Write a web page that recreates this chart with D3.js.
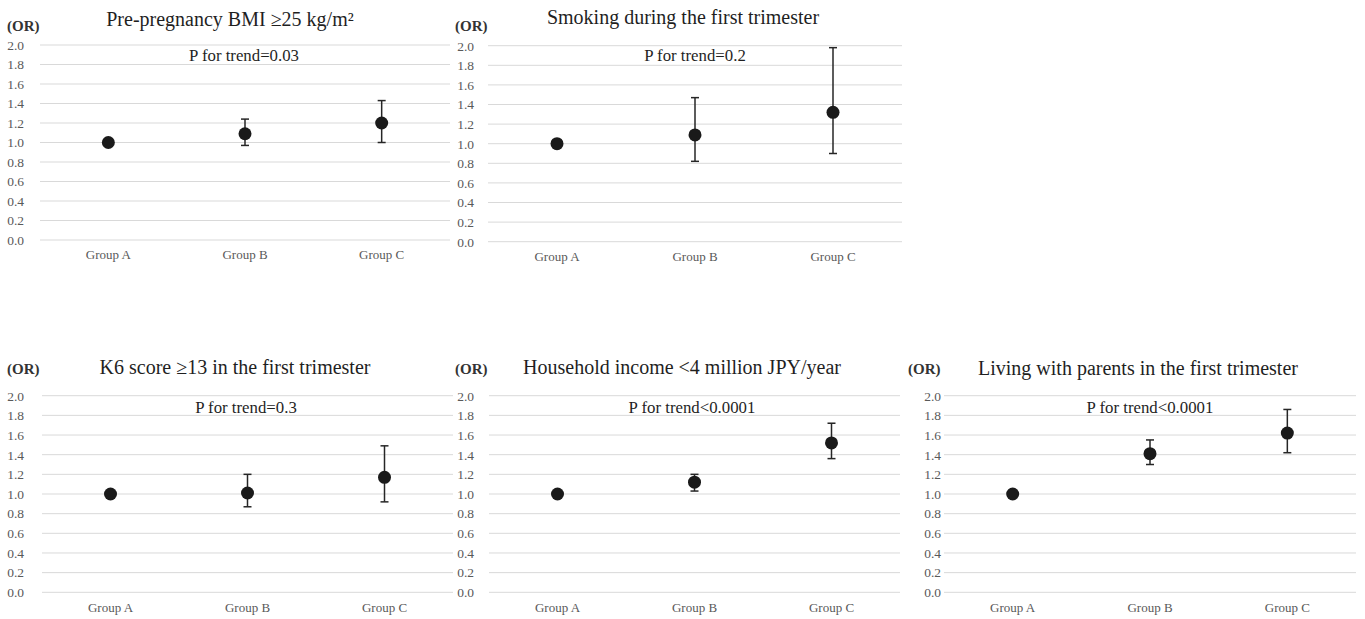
<!DOCTYPE html>
<html>
<head>
<meta charset="utf-8">
<script src="https://cdn.jsdelivr.net/npm/d3@7/dist/d3.min.js"></script>
<style>
  html, body { margin: 0; padding: 0; background: #fff; }
  svg { display: block; }
</style>
</head>
<body>
<svg id="chart" width="1365" height="619" font-family="'Liberation Serif', 'Times New Roman', serif"></svg>
<script>
// ---- data ----
const categories = ["Group A", "Group B", "Group C"];
const yTicks = [0, 0.2, 0.4, 0.6, 0.8, 1.0, 1.2, 1.4, 1.6, 1.8, 2.0];
const titles = [
  "Pre-pregnancy BMI \u226525 kg/m\u00B2",
  "Smoking during the first trimester",
  "K6 score \u226513 in the first trimester",
  "Household income <4 million JPY/year",
  "Living with parents in the first trimester"
];
const pTrend = [
  "P for trend=0.03",
  "P for trend=0.2",
  "P for trend=0.3",
  "P for trend<0.0001",
  "P for trend<0.0001"
];
const orBMI = [1.0, 1.09, 1.20];
const loBMI = [1.0, 0.97, 1.00];
const hiBMI = [1.0, 1.24, 1.43];
const orSmoke = [1.0, 1.09, 1.32];
const loSmoke = [1.0, 0.82, 0.90];
const hiSmoke = [1.0, 1.47, 1.98];
const orK6 = [1.0, 1.01, 1.17];
const loK6 = [1.0, 0.87, 0.92];
const hiK6 = [1.0, 1.20, 1.49];
const orIncome = [1.0, 1.12, 1.52];
const loIncome = [1.0, 1.03, 1.36];
const hiIncome = [1.0, 1.20, 1.72];
const orParents = [1.0, 1.41, 1.62];
const loParents = [1.0, 1.30, 1.42];
const hiParents = [1.0, 1.55, 1.86];

const series = [
  [orBMI, loBMI, hiBMI],
  [orSmoke, loSmoke, hiSmoke],
  [orK6, loK6, hiK6],
  [orIncome, loIncome, hiIncome],
  [orParents, loParents, hiParents]
];

// ---- layout (pixel geometry of each panel) ----
const layout = [
  { x0: 40,  x1: 450,  yT: 45,    yB: 240,   tx: 230,  ty: 26,  px: 244,  py: 61,  orX: 7,   orY: 31,  tickX: 24 },
  { x0: 488, x1: 902,  yT: 45.7,  yB: 241.7, tx: 683,  ty: 24,  px: 695,  py: 61,  orX: 455, orY: 31,  tickX: 474 },
  { x0: 42,  x1: 453,  yT: 395.7, yB: 592.3, tx: 235,  ty: 374, px: 246,  py: 413, orX: 7,   orY: 374, tickX: 24 },
  { x0: 489, x1: 900,  yT: 395.7, yB: 592.3, tx: 682,  ty: 374, px: 692,  py: 413, orX: 455, orY: 374, tickX: 474 },
  { x0: 944, x1: 1356, yT: 395.7, yB: 592.3, tx: 1138, ty: 375, px: 1150, py: 413, orX: 908, orY: 374, tickX: 941 }
];

const FONT = "'Liberation Serif', 'Times New Roman', serif";
const svg = d3.select("#chart");
const textColor = "#1f1f1f";
const tickColor = "#595959";

series.forEach((s, i) => {
  const L = layout[i];
  const g = svg.append("g");
  const x = d3.scaleBand().domain(categories).range([L.x0, L.x1]);
  const y = d3.scaleLinear().domain([0, 2]).range([L.yB, L.yT]);

  // gridlines
  g.append("g").selectAll("line").data(yTicks).join("line")
    .attr("x1", L.x0).attr("x2", L.x1)
    .attr("y1", d => y(d)).attr("y2", d => y(d))
    .attr("stroke", "#d9d9d9").attr("stroke-width", 1);

  // y tick labels
  const yAxis = d3.axisLeft(y).tickValues(yTicks).tickFormat(d3.format(".1f")).tickSize(0).tickPadding(0);
  const ya = g.append("g").attr("transform", `translate(${L.tickX},0)`).call(yAxis)
    .attr("font-family", FONT).attr("font-size", 13.5);
  ya.select(".domain").remove();
  ya.selectAll("text").attr("fill", tickColor);

  // x labels
  const xAxis = d3.axisBottom(x).tickSize(0).tickPadding(0);
  const xa = g.append("g").attr("transform", `translate(0,${L.yB + 10})`).call(xAxis)
    .attr("font-family", FONT).attr("font-size", 13);
  xa.select(".domain").remove();
  xa.selectAll("text").attr("fill", tickColor);

  // (OR)
  g.append("text").attr("x", L.orX).attr("y", L.orY)
    .attr("font-family", FONT).attr("font-size", 15).attr("font-weight", "bold")
    .attr("fill", "#333").text("(OR)");

  // title
  g.append("text").attr("x", L.tx).attr("y", L.ty).attr("text-anchor", "middle")
    .attr("font-family", FONT).attr("font-size", 20)
    .attr("fill", textColor).text(titles[i]);

  // p for trend
  g.append("text").attr("x", L.px).attr("y", L.py).attr("text-anchor", "middle")
    .attr("font-family", FONT).attr("font-size", 16.8)
    .attr("fill", textColor).text(pTrend[i]);

  const [or, lo, hi] = s;
  const cx = j => x(categories[j]) + x.bandwidth() / 2;
  const idx = categories.map((c, j) => j).filter(j => hi[j] !== lo[j]);

  // error bars
  g.append("g").selectAll("line").data(idx).join("line")
    .attr("x1", cx).attr("x2", cx)
    .attr("y1", j => y(lo[j])).attr("y2", j => y(hi[j]))
    .attr("stroke", "#262626").attr("stroke-width", 1.5);
  [lo, hi].forEach(arr => {
    g.append("g").selectAll("line").data(idx).join("line")
      .attr("x1", j => cx(j) - 4).attr("x2", j => cx(j) + 4)
      .attr("y1", j => y(arr[j])).attr("y2", j => y(arr[j]))
      .attr("stroke", "#262626").attr("stroke-width", 1.5);
  });

  // points
  g.append("g").selectAll("circle").data(or).join("circle")
    .attr("cx", (d, j) => cx(j)).attr("cy", d => y(d))
    .attr("r", 6.5).attr("fill", "#1a1a1a");
});
</script>
</body>
</html>
